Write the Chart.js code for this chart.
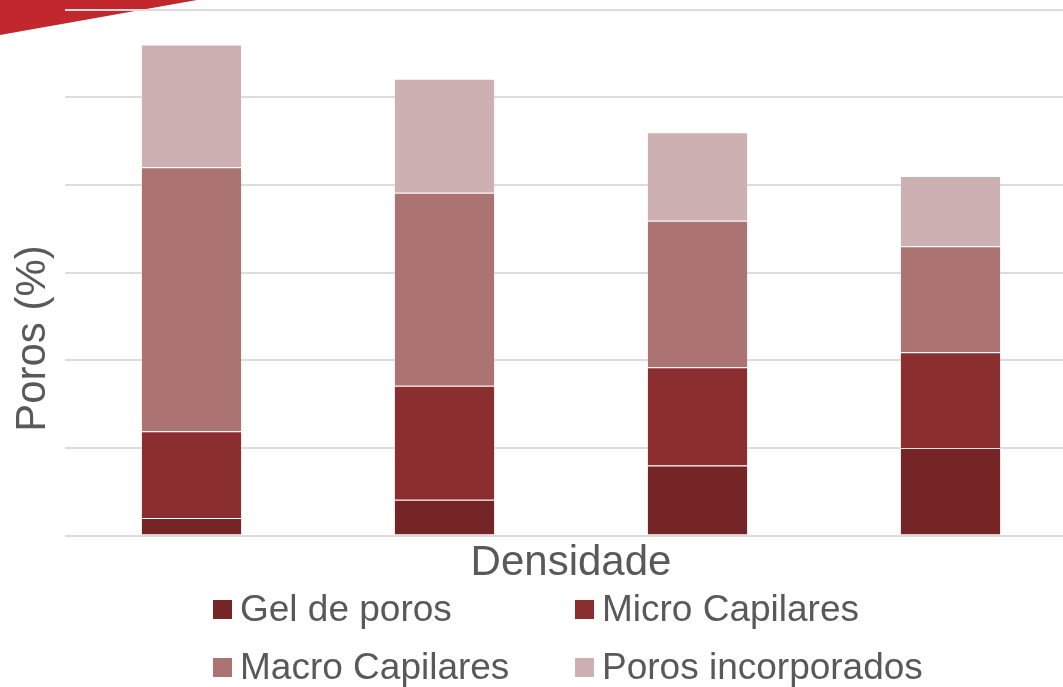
<!DOCTYPE html>
<html>
<head>
<meta charset="utf-8">
<script src="https://cdn.jsdelivr.net/npm/chart.js@4.4.1/dist/chart.umd.min.js"></script>
<style>
    body { margin: 0; background: #fff; overflow: hidden; }
    .wrap { position: relative; width: 1063px; height: 687px; overflow: hidden; }
    .inner { position: absolute; left: 0; top: 0; width: 1077px; height: 687px; }
    .legend {
        position: absolute; left: 213px; top: 580px;
        display: grid; grid-template-columns: 362px auto; grid-auto-rows: 58px;
        font-family: "Liberation Sans", Arial, sans-serif; font-size: 37px; color: #595959;
    }
    .legend .item { display: flex; align-items: center; white-space: nowrap; }
    .legend .box { width: 19px; height: 19px; margin-right: 8px; }
</style>
</head>
<body>
<div class="wrap">
    <div class="inner"><canvas id="chart" width="1077" height="687"></canvas></div>
    <div class="legend" id="legend"></div>
</div>
<script>
const categories = ['1', '2', '3', '4'];
const gelPoros = [2.0, 4.1, 8.0, 10.0];
const microCapilares = [9.9, 13.0, 11.2, 10.9];
const macroCapilares = [30.1, 22.0, 16.7, 12.1];
const porosIncorporados = [14.0, 13.0, 10.1, 8.0];
const yTicks = [0, 10, 20, 30, 40, 50, 60];

const textColor = '#595959';

document.addEventListener('DOMContentLoaded', () => {
    const series = [
        { label: 'Gel de poros', data: gelPoros, color: '#762527' },
        { label: 'Micro Capilares', data: microCapilares, color: '#8b2e30' },
        { label: 'Macro Capilares', data: macroCapilares, color: '#ab7372' },
        { label: 'Poros incorporados', data: porosIncorporados, color: '#cdb1b2' }
    ];

    // red corner shape + rotated y title
    const decor = {
        id: 'decor',
        beforeDraw(chart) {
            const ctx = chart.ctx;
            ctx.save();
            ctx.fillStyle = '#c1272d';
            ctx.beginPath();
            ctx.moveTo(0, 0);
            ctx.lineTo(197, 0);
            ctx.lineTo(0, 35);
            ctx.closePath();
            ctx.fill();
            ctx.restore();
        },
        afterDraw(chart) {
            const ctx = chart.ctx;
            ctx.save();
            ctx.translate(45, 338.5);
            ctx.rotate(-Math.PI / 2);
            ctx.font = '42px "Liberation Sans", Arial, sans-serif';
            ctx.fillStyle = textColor;
            ctx.textAlign = 'center';
            ctx.textBaseline = 'alphabetic';
            ctx.fillText('Poros (%)', 0, 0);
            ctx.restore();
        }
    };

    const ctx = document.getElementById('chart').getContext('2d');
    new Chart(ctx, {
        type: 'bar',
        data: {
            labels: categories,
            datasets: series.map(s => ({
                label: s.label,
                data: s.data,
                backgroundColor: s.color,
                borderColor: 'rgba(255,255,255,0.2)',
                borderWidth: 1,
                categoryPercentage: 0.8,
                barPercentage: 0.5
            }))
        },
        options: {
            responsive: false,
            animation: false,
            layout: { padding: { left: 65, top: 9.5, right: 0, bottom: 98.5 } },
            plugins: { legend: { display: false }, tooltip: { enabled: false } },
            scales: {
                x: {
                    stacked: true,
                    grid: { display: false, drawTicks: false },
                    border: { display: false },
                    ticks: { display: false },
                    title: {
                        display: true,
                        text: 'Densidade',
                        color: textColor,
                        font: { family: '"Liberation Sans", Arial, sans-serif', size: 42 },
                        padding: { top: 2.5, bottom: 0 }
                    }
                },
                y: {
                    stacked: true,
                    min: yTicks[0],
                    max: yTicks[yTicks.length - 1],
                    border: { display: false },
                    grid: { color: '#dcdcdc', lineWidth: 2, drawTicks: false },
                    ticks: { display: false, stepSize: yTicks[1] - yTicks[0] }
                }
            }
        },
        plugins: [decor]
    });

    // legend in two columns
    const legend = document.getElementById('legend');
    series.forEach(s => {
        const item = document.createElement('div');
        item.className = 'item';
        item.innerHTML = '<span class="box" style="background:' + s.color + '"></span><span>' + s.label + '</span>';
        legend.appendChild(item);
    });
});
</script>
</body>
</html>
